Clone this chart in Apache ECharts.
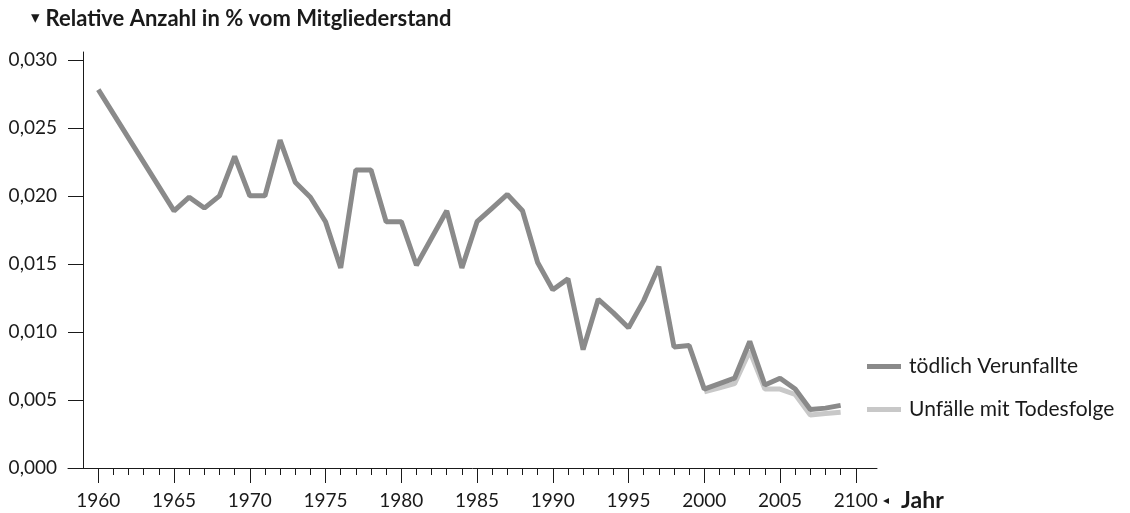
<!DOCTYPE html>
<html>
<head>
<meta charset="utf-8">
<script src="https://cdn.jsdelivr.net/npm/echarts@6/dist/echarts.min.js"></script>
<style>
  html, body { margin: 0; padding: 0; background: #fff; }
  #chart { width: 1130px; height: 513px; }
</style>
</head>
<body>
<div id="chart"></div>
<script>
// Jahre und Werte (relative Anzahl in % vom Mitgliederstand)
var years = [1960, 1961, 1962, 1963, 1964, 1965, 1966, 1967, 1968, 1969,
  1970, 1971, 1972, 1973, 1974, 1975, 1976, 1977, 1978, 1979,
  1980, 1981, 1982, 1983, 1984, 1985, 1986, 1987, 1988, 1989,
  1990, 1991, 1992, 1993, 1994, 1995, 1996, 1997, 1998, 1999,
  2000, 2001, 2002, 2003, 2004, 2005, 2006, 2007, 2008, 2009];
var verunfallte = [0.0278, null, null, null, null, 0.0189, 0.0199, 0.0191, 0.0200, 0.0229,
  0.0200, 0.0200, 0.0241, 0.0210, 0.0199, 0.0181, 0.0147, 0.0219, 0.0219, 0.0181,
  0.0181, 0.0149, 0.0169, 0.0189, 0.0147, 0.0181, 0.0191, 0.0201, 0.0189, 0.0151,
  0.0131, 0.0139, 0.0087, 0.0124, 0.0114, 0.0103, 0.0123, 0.0148, 0.0089, 0.0090,
  0.0058, 0.0062, 0.0066, 0.0093, 0.0061, 0.0066, 0.0058, 0.0043, 0.0044, 0.0046];
var unfaelleYears = [2000, 2001, 2002, 2003, 2004, 2005, 2006, 2007, 2008, 2009];
var unfaelle = [0.0056, 0.0059, 0.0062, 0.0086, 0.0058, 0.0058, 0.0054, 0.0039, 0.0040, 0.0041];

// Achsenbeschriftung
var xLabelValues = [1960, 1965, 1970, 1975, 1980, 1985, 1990, 1995, 2000, 2005, 2010];
var xLabelTexts = ['1960', '1965', '1970', '1975', '1980', '1985', '1990', '1995', '2000', '2005', '2100'];
var yTickValues = [0, 0.005, 0.010, 0.015, 0.020, 0.025, 0.030];

var yearTicks = [];
for (var y = 1960; y <= 2010; y++) yearTicks.push(y);

var fontFamily = 'Lato, "Noto Sans", sans-serif';
var textColor = '#1a1a1a';
var axisColor = '#1a1a1a';

var myChart = echarts.init(document.getElementById('chart'));

var option = {
  animation: false,
  textStyle: { fontFamily: fontFamily, color: textColor },
  grid: { left: 68, top: 52, width: 809, height: 416 },
  graphic: [
    {
      type: 'text', left: 31, top: 8,
      style: {
        text: '{t|▾}{b|Relative Anzahl in % vom Mitgliederstand}',
        rich: {
          t: { fontSize: 17, fontFamily: 'DejaVu Sans', fill: textColor, padding: [0, 6, 0, 0] },
          b: { fontSize: 22, fontWeight: 'bold', fontFamily: fontFamily, fill: textColor }
        }
      }
    },
    {
      type: 'text', left: 883, top: 489,
      style: {
        text: '{t|◂}{b|Jahr}',
        rich: {
          t: { fontSize: 12, fontFamily: 'DejaVu Sans', fill: textColor, padding: [0, 12, 0, 0] },
          b: { fontSize: 23, fontWeight: 'bold', fontFamily: fontFamily, fill: textColor }
        }
      }
    }
  ],
  legend: {
    orient: 'vertical',
    left: 862, top: 351,
    itemWidth: 34, itemHeight: 5, itemGap: 22,
    icon: 'rect',
    data: ['tödlich Verunfallte', 'Unfälle mit Todesfolge'],
    textStyle: { fontSize: 21, fontFamily: fontFamily, color: textColor, padding: [0, 0, 0, 3] }
  },
  xAxis: [
    {
      type: 'value', min: 1958, max: 2011.4, position: 'bottom',
      axisLine: { show: true, onZero: false, lineStyle: { color: axisColor, width: 1 } },
      axisTick: { show: true, length: 7, customValues: yearTicks, lineStyle: { color: axisColor } },
      axisLabel: { show: false },
      splitLine: { show: false }
    },
    {
      type: 'value', min: 1958, max: 2011.4, position: 'bottom',
      axisLine: { show: false, onZero: false },
      axisTick: { show: true, length: 15, customValues: xLabelValues, lineStyle: { color: axisColor } },
      axisLabel: {
        customValues: xLabelValues, margin: 23, fontSize: 19, color: textColor,
        formatter: function (v) { return xLabelTexts[xLabelValues.indexOf(v)]; }
      },
      splitLine: { show: false }
    }
  ],
  yAxis: {
    type: 'value', min: 0, max: 0.03057, offset: -15,
    axisLine: { show: true, onZero: false, lineStyle: { color: axisColor, width: 1 } },
    axisTick: { show: true, length: 15, customValues: yTickValues, lineStyle: { color: axisColor } },
    axisLabel: {
      customValues: yTickValues, margin: 26, fontSize: 19, color: textColor,
      formatter: function (v) { return v.toFixed(3).replace('.', ','); }
    },
    splitLine: { show: false }
  },
  series: [
    {
      name: 'Unfälle mit Todesfolge',
      type: 'line',
      symbol: 'none',
      color: '#c8c8c8',
      lineStyle: { width: 5, color: '#c8c8c8' },
      data: unfaelleYears.map(function (yr, i) { return [yr, unfaelle[i]]; })
    },
    {
      name: 'tödlich Verunfallte',
      type: 'line',
      symbol: 'none',
      connectNulls: true,
      color: '#8a8a8a',
      lineStyle: { width: 5, color: '#8a8a8a' },
      data: years.map(function (yr, i) { return [yr, verunfallte[i]]; })
    }
  ]
};

myChart.setOption(option);
</script>
</body>
</html>
